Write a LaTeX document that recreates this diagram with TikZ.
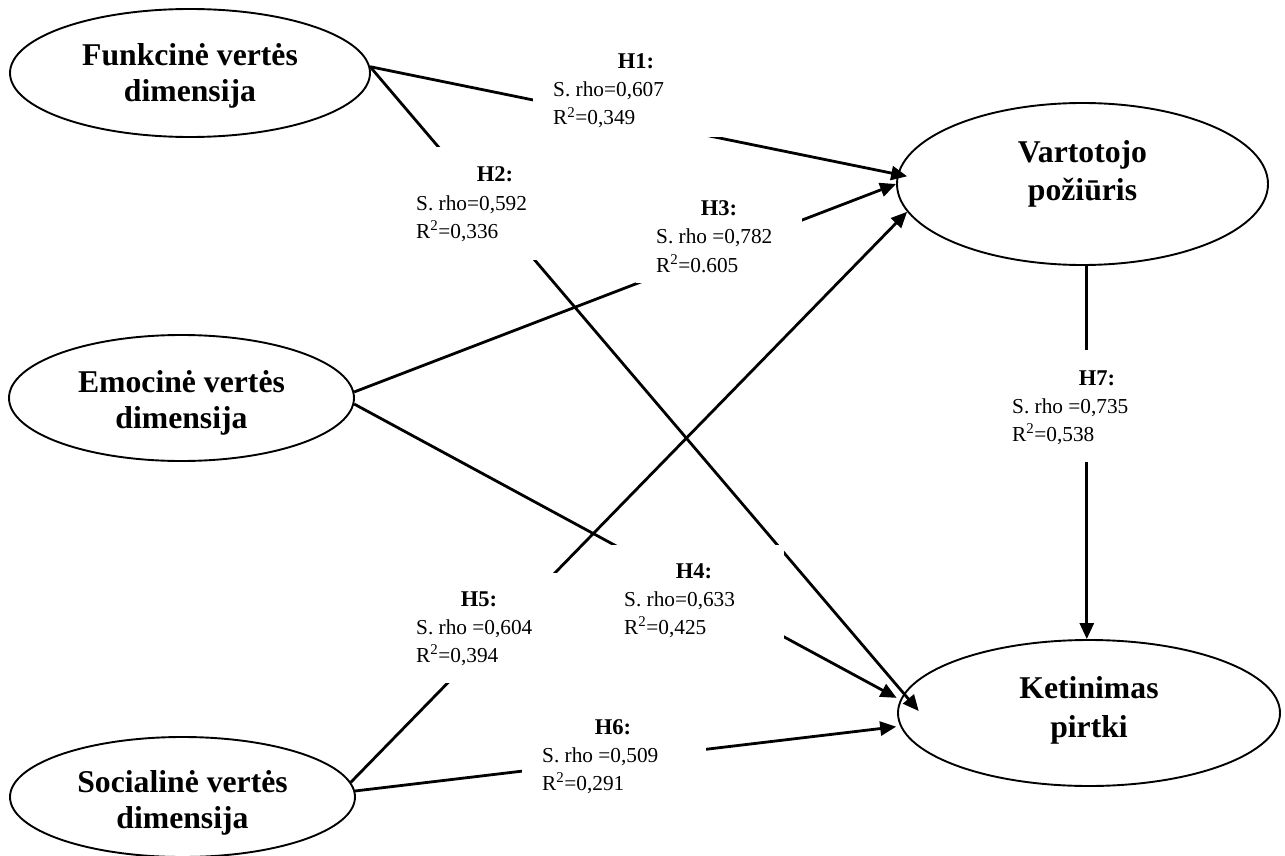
\documentclass[tikz,border=0pt]{standalone}
\usepackage{fontspec}
\setmainfont{Liberation Serif}
\usetikzlibrary{shapes.geometric,arrows.meta}
% two centred lines whose reference point is the first baseline
\newcommand{\twolines}[3]{\begin{tabular}[t]{@{}c@{}}#2\\[#1]#3\end{tabular}}
\begin{document}
\begin{tikzpicture}[x=1pt,y=-1pt,
  construct/.style={ellipse,draw,line width=1.9pt,inner sep=0pt,text height=0pt,
    font=\fontsize{31.7}{36}\selectfont\bfseries},
  link/.style={line width=2.8pt},
  effect/.style={link,-{Triangle[length=16pt,width=14pt]}},
  hyp/.style={anchor=base,inner sep=0pt,font=\fontsize{22.5}{26}\selectfont\bfseries},
  stat/.style={anchor=base west,inner sep=0pt,font=\fontsize{21.3}{26}\selectfont}]
\useasboundingbox (0,0) rectangle (1285,856);
\clip (0,0) rectangle (1285,856);

% constructs (text depth = twice the rise of the first baseline above the centre)
\node[construct,minimum width=360pt,minimum height=128pt,text depth=14pt] (f) at (190,73)
  {\twolines{0pt}{Funkcinė vertės}{dimensija}};
\node[construct,minimum width=345pt,minimum height=126pt,text depth=12pt] (e) at (181.5,398)
  {\twolines{0pt}{Emocinė vertės}{dimensija}};
\node[construct,minimum width=345pt,minimum height=120pt,text depth=10pt] (s) at (182.5,797)
  {\twolines{0pt}{Socialinė vertės}{dimensija}};
\node[construct,minimum width=371pt,minimum height=162pt,text depth=42pt] (v) at (1082.5,184)
  {\twolines{1pt}{Vartotojo}{požiūris}};
\node[construct,minimum width=382pt,minimum height=146pt,text depth=30pt] (k) at (1089,713)
  {\twolines{3pt}{Ketinimas}{pirtki}};

% hypothesised paths
\draw[effect,shorten >=-10pt] (f.2) -- (v.177.3);
\draw[effect,shorten >=-23pt] (f.2) -- (k.174.3);
\draw[effect] (e.2) -- (v.180);
\draw[effect,shorten >=4pt] (e.-2) -- (k.176);
\draw[effect] (s.5) -- (v.189.7);
\draw[effect,shorten >=4pt] (s.2.7) -- (k.184);
\draw[effect] (v.-87) -- (v.-87 |- k.north);

% white panels behind the statistics
\fill[white] (533,34) rectangle (739,137);
\fill[white] (396,147) rectangle (594,260);
\fill[white] (636,190) rectangle (802,283);
\fill[white] (604,545) rectangle (784,650);
\fill[white] (396,573) rectangle (562,683);
\fill[white] (522,705) rectangle (706,805);
\fill[white] (992,350) rectangle (1202,462);

% statistics
\node[hyp] (h1) at (636,69) {H1:};
\node[stat] (h1r) at (553,97) {S. rho=0,607};
\node[stat] (h1q) at (553,125) {R\textsuperscript{2}=0,349};

\node[hyp] (h2) at (495,182) {H2:};
\node[stat] (h2r) at (416,210) {S. rho=0,592};
\node[stat] (h2q) at (416,238) {R\textsuperscript{2}=0,336};

\node[hyp] (h3) at (719,215) {H3:};
\node[stat] (h3r) at (656,243) {S. rho =0,782};
\node[stat] (h3q) at (656,272) {R\textsuperscript{2}=0.605};

\node[hyp] (h4) at (694,578) {H4:};
\node[stat] (h4r) at (624,606) {S. rho=0,633};
\node[stat] (h4q) at (624,634) {R\textsuperscript{2}=0,425};

\node[hyp] (h5) at (479,606) {H5:};
\node[stat] (h5r) at (416,634) {S. rho =0,604};
\node[stat] (h5q) at (416,662) {R\textsuperscript{2}=0,394};

\node[hyp] (h6) at (613,734) {H6:};
\node[stat] (h6r) at (542,762) {S. rho =0,509};
\node[stat] (h6q) at (542,790) {R\textsuperscript{2}=0,291};

\node[hyp] (h7) at (1097,385) {H7:};
\node[stat] (h7r) at (1012,413) {S. rho =0,735};
\node[stat] (h7q) at (1012,441) {R\textsuperscript{2}=0,538};
\end{tikzpicture}
\end{document}
